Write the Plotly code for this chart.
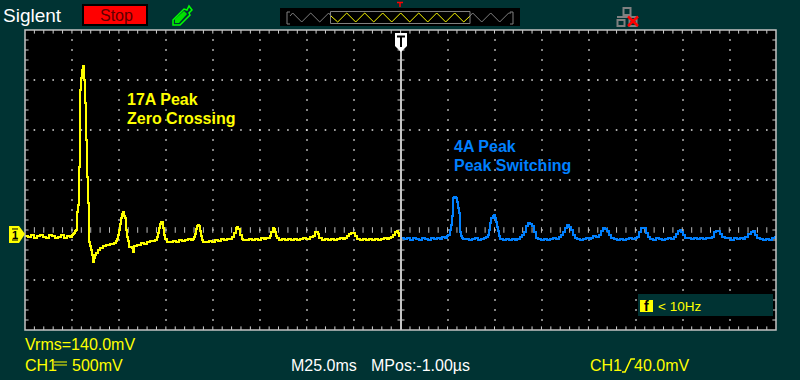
import numpy as np
import plotly.graph_objects as go

# Scope record as (sample index, millivolts): one sample per screen column, 500 mV/div
yellow_record = [
 (0,10),(3,0),(6,20),(9,-10),(12,10),(15,20),(18,0),(21,-10),(24,20),(27,10),(30,-10),(33,0),(36,20),(39,-10),(42,10),(45,0),
 (47,20),(48,30),(49,40),(50,60),(51,70),(52,250),(53,320),(54,700),(55,1470),(56,1590),(57,1670),(58,1710),(59,1570),(60,1340),(61,970),(62,600),(63,340),(64,-50),(65,-90),(66,-130),(67,-180),(68,-250),(69,-210),(70,-180),(71,-160),
 (73,-130),(75,-110),(78,-90),(81,-80),(85,-70),(89,-60),(91,-40),(92,-20),(93,20),(94,70),(95,130),(96,190),(97,230),(98,250),(99,210),(100,190),(101,70),(102,0),(103,-40),(104,-100),(106,-100),(107,-110),(108,-150),(109,-90),
 (112,-80),(116,-60),(119,-70),(122,-50),(125,-40),(128,-40),(130,-30),(132,0),(133,40),(134,90),(135,130),(136,150),(137,150),(138,90),(139,20),(140,-20),(142,-50),
 (145,-50),(148,-40),(151,-50),(154,-30),(157,-40),(160,-30),(163,-20),(166,-30),(168,-20),(169,0),(170,30),(171,80),(172,110),(173,120),(174,110),(175,60),(176,10),(177,-30),(178,-50),
 (181,-50),(184,-40),(187,-50),(190,-30),(193,-40),(196,-20),(199,-30),(202,-20),(205,-20),(207,0),(209,40),(211,90),(212,100),(213,80),(215,20),(217,-20),(218,-30),
 (221,-30),(224,-20),(227,-30),(230,-20),(233,-30),(236,-10),(239,-20),(241,-10),(243,-10),(245,10),(246,50),(248,90),(249,80),(250,50),(251,10),(252,-10),(254,-30),
 (257,-20),(260,-30),(263,-20),(266,-30),(269,-20),(272,-30),(275,-20),(278,-10),(281,-20),(283,-20),(285,0),(288,10),(290,50),(291,50),(293,30),(294,-10),(297,-30),
 (300,-20),(303,-30),(306,-20),(309,-30),(312,-20),(315,-10),(318,-20),(320,-10),(322,10),(324,30),(326,40),(328,40),(330,10),(332,-20),(335,-30),
 (338,-20),(341,-30),(344,-20),(347,-30),(350,-20),(353,-30),(356,-20),(359,-10),(362,-20),(364,-10),(366,0),(368,20),(370,50),(372,60),(373,40),(374,10),(376,-10),
]
blue_record = [
 (376,-10),(379,-20),(382,-10),(385,-30),(388,-10),(391,-20),(394,-30),(397,-10),(400,-20),(403,-30),(406,-10),(409,-20),(412,-10),(415,-20),(417,0),(420,-10),(422,10),(423,20),(425,70),(426,120),(427,210),(428,390),(429,400),(430,400),(431,390),(432,350),(433,290),(434,240),(435,50),(436,10),(437,-10),(438,-20),
 (441,-20),(444,-30),(447,-20),(450,-10),(453,-30),(456,-20),(459,-10),(461,0),(463,20),(464,70),(465,140),(466,190),(468,210),(469,220),(470,190),(471,150),(472,100),(473,60),(474,10),(475,-20),
 (478,-30),(481,-20),(484,-30),(487,-20),(490,-30),(492,-20),(495,0),(497,20),(499,50),(501,110),(503,140),(505,130),(507,110),(509,50),(511,-10),(513,-20),
 (516,-30),(519,-20),(522,-30),(525,-20),(528,-10),(531,-20),(534,0),(536,20),(538,50),(540,90),(542,120),(544,100),(546,70),(548,20),(550,-10),(552,-20),
 (555,-30),(558,-20),(561,-10),(564,-20),(566,-10),(568,10),(571,0),(574,20),(576,60),(578,90),(580,80),(582,60),(584,20),(586,-10),(589,-20),
 (592,-30),(595,-20),(598,-30),(601,-20),(604,-10),(607,-20),(610,-10),(612,0),(614,50),(616,90),(619,90),(621,40),(623,0),(625,-20),
 (628,-30),(631,-10),(634,-20),(637,-30),(640,-20),(643,-10),(646,-20),(649,0),(651,30),(653,60),(655,70),(656,50),(658,20),(660,-10),(663,-10),
 (666,-20),(669,-10),(672,-20),(675,-10),(678,-20),(681,-10),(684,-10),(687,0),(689,50),(691,60),(693,60),(695,30),(697,0),(700,-10),
 (703,-10),(706,-30),(709,-10),(712,-20),(715,-10),(718,-20),(720,0),(723,30),(726,50),(728,60),(730,20),(732,-10),(735,-20),(738,-30),(741,-20),(744,-30),(747,-10),(750,10),
]

note_zero = ["17A Peak", "Zero Crossing"]
note_peak = ["4A Peak", "Peak Switching"]
readouts_yellow = ["Vrms=140.0mV", "CH1", "500mV", "40.0mV", "CH1"]
readouts_white = ["M25.0ms", "MPos:-1.00µs"]

W, H = 800, 380
BG, GREY, YEL, BLU = "#003333", "#c4c4c4", "#ffff00", "#0080ff"
L, R, T, B = 25, 776, 30, 330
def X(p): return p / W
def Y(p): return 1 - p / H
def sx(p): return p - L            # screen px to sample
def mv(p): return (237 - p) * 10   # screen px to mV

fig = go.Figure()

def ticks(x, y, symbol, size, color="#d0d0d0", w=1):
    fig.add_trace(go.Scatter(x=x, y=y, mode="markers", hoverinfo="skip", showlegend=False,
        marker=dict(symbol=symbol, size=size, color=color, line=dict(color=color, width=w))))

cols = [sx(25 + 47 * i) for i in range(1, 16)]
rows = [mv(v) for v in (80, 130, 180, 280)]
minor_x = np.arange(0, 751, 9.39)
minor_y = [mv(v) for v in range(40, 330, 10)]
xs, ys = [], []
for c in cols:
    if c == sx(401): continue
    xs += [c] * len(minor_y); ys += minor_y
for r in rows:
    xs += list(minor_x[1:]); ys += [r] * (len(minor_x) - 1)
fig.add_trace(go.Scatter(x=xs, y=ys, mode="markers", hoverinfo="skip", showlegend=False,
    marker=dict(symbol="square", size=1.6, color="#d8d8d8", line=dict(width=0))))
ticks(list(minor_x[1:]), [mv(230)] * (len(minor_x) - 1), "line-ns", 4, "#b8b8b8")
ticks(list(minor_x[1:]), [mv(31.5)] * (len(minor_x) - 1), "line-ns", 3)
ticks(list(minor_x[1:]), [mv(328.5)] * (len(minor_x) - 1), "line-ns", 3)
ticks([1.5] * len(minor_y), minor_y, "line-ew", 3)
ticks([749.5] * len(minor_y), minor_y, "line-ew", 3)
ticks([sx(401)] * len(minor_y), minor_y, "line-ew", 5)

ysx, ymv = zip(*yellow_record)
bsx, bmv = zip(*blue_record)
fig.add_trace(go.Scatter(x=ysx, y=ymv, mode="lines", showlegend=False,
    line=dict(color=YEL, width=2, shape="hv"), hoverinfo="skip"))
fig.add_trace(go.Scatter(x=bsx, y=bmv, mode="lines", showlegend=False,
    line=dict(color=BLU, width=2, shape="hv"), hoverinfo="skip"))

shapes = []
def rect(x0, y0, x1, y1, fill=None, line=None, w=1, layer="above"):
    shapes.append(dict(type="rect", xref="paper", yref="paper", x0=X(x0), x1=X(x1), y0=Y(y0), y1=Y(y1),
        fillcolor=fill or "rgba(0,0,0,0)", line=dict(color=line or "rgba(0,0,0,0)", width=w if line else 0), layer=layer))
def path(pts, fill=None, line=None, w=1, close=True):
    d = "M" + "L".join(f"{X(a):.5f},{Y(b):.5f}" for a, b in pts) + ("Z" if close else "")
    shapes.append(dict(type="path", xref="paper", yref="paper", path=d,
        fillcolor=fill or "rgba(0,0,0,0)", line=dict(color=line or "rgba(0,0,0,0)", width=w if line else 0)))

# frame and trigger line
rect(L, T, R, B, None, GREY, 1.5)
path([(401, 50), (401, 330)], None, GREY, 2, False)
# trigger flag
path([(395, 33), (407, 33), (407, 46), (401, 52), (395, 46)], "#ffffff")
path([(397, 36.5), (405, 36.5)], None, "#000000", 2, False)
path([(401, 36), (401, 47)], None, "#000000", 2, False)
# channel flag
path([(9, 226), (19, 226), (25, 234), (19, 243), (9, 243)], YEL)
path([(12, 229), (18, 229)], None, "#000000", 1, False)
path([(12, 240), (18, 240)], None, "#000000", 1, False)
# stop button
rect(82, 4, 148, 26, "#000000")
rect(84, 6, 146, 24, "#ff0000")
# run/stop icon
path([(173, 20), (184, 9), (187, 10), (189, 6), (192, 10), (189, 13), (190, 15), (180, 25), (173, 25)], None, "#00ff00", 1.5)
path([(175, 19), (184, 11), (187, 14), (179, 23), (175, 23)], "#00e000")
# timeline
rect(280, 8, 520, 26, "#000000")
edges = [292.7 + 18 * k for k in range(13)]
zig = []
for e in edges:
    zig += [(e, 13), (e + 9, 22)]
zig = [(290, 16)] + zig[:-1] + [(511, 13)]
grey_a = [p for p in zig if p[0] <= 328.7] + [(331, 16)]
yellow_z = [(331, 16)] + [p for p in zig if 331 < p[0] < 470] + [(470, 16)]
grey_b = [(470, 16)] + [p for p in zig if p[0] >= 470]
path(grey_a, None, "#808080", 1, False)
path(grey_b, None, "#808080", 1, False)
path(yellow_z, None, YEL, 1, False)
rect(330.5, 11.5, 470, 23.5, None, "#808080", 1)
path([(290, 12), (287, 12), (287, 24), (290, 24)], None, "#808080", 1, False)
path([(510, 12), (513, 12), (513, 24), (510, 24)], None, "#808080", 1, False)
path([(397, 2.5), (403, 2.5)], None, "#ff0000", 1.5, False)
path([(400, 2.5), (400, 7)], None, "#ff0000", 1.5, False)
# network icon
rect(623.5, 8, 630.5, 15, None, "#808080", 2)
rect(617.5, 20, 624.5, 26, None, "#808080", 2)
rect(629.5, 20, 636.5, 26, None, "#808080", 2)
path([(617, 17), (638, 17)], None, "#808080", 2, False)
path([(628, 16.5), (638, 26)], None, "#ff0000", 2.5, False)
path([(638, 16.5), (628, 26)], None, "#ff0000", 2.5, False)
# frequency box
shapes.append(dict(type="rect", xref="paper", yref="paper", x0=X(638), x1=X(773), y0=Y(294), y1=Y(316),
    fillcolor=BG, line=dict(width=0), layer="above"))
rect(640, 300, 653, 312, YEL)
# DC coupling glyph and trigger slope
path([(54, 362), (67, 362)], None, YEL, 1, False)
path([(54, 365), (67, 365)], None, YEL, 1, False)
path([(622, 372), (625, 372), (631, 359), (635, 359)], None, YEL, 1.5, False)

ann = []
def text(s, x, y, size, color, bold=False, family="Liberation Sans"):
    ann.append(dict(text=f"<b>{s}</b>" if bold else s, x=X(x), y=Y(y), xref="paper", yref="paper", showarrow=False,
        xanchor="left", yanchor="middle", borderpad=0, borderwidth=0,
        font=dict(family=family, size=size, color=color)))
text("Siglent", 3, 15, 19, "#ffffff")
text("Stop", 100, 15, 16, "#600000")
text(note_zero[0], 127, 100, 16, YEL, True)
text(note_zero[1], 127, 118, 16, YEL, True)
text(note_peak[0], 454, 146, 16, BLU, True)
text(note_peak[1], 454, 165, 16, BLU, True)
text(readouts_yellow[0], 25, 344, 16, YEL)
text(readouts_yellow[1], 25, 365, 16, YEL)
text(readouts_yellow[2], 72, 365, 16, YEL)
text(readouts_white[0], 291, 365, 16, "#ffffff")
text(readouts_white[1], 371, 365, 16, "#ffffff")
text(readouts_yellow[4], 590, 365, 16, YEL)
text(readouts_yellow[3], 634, 365, 16, YEL)
text("f", 644, 306, 14, "#000000", True)
text("&lt; 10Hz", 658, 306, 13.5, YEL)
text("1", 12, 234.5, 11, "#000000", True)

fig.update_layout(
    width=W, height=H, autosize=False, margin=dict(l=0, r=0, t=0, b=0),
    paper_bgcolor=BG, plot_bgcolor="#000000", showlegend=False, shapes=shapes, annotations=ann,
    xaxis=dict(domain=[X(L), X(R)], range=[0, R - L], visible=False, fixedrange=True),
    yaxis=dict(domain=[Y(B), Y(T)], range=[mv(B), mv(T)], visible=False, fixedrange=True),
)
fig.write_html("out.html", config={"displayModeBar": False}, post_script="document.body.style.margin='0';document.body.style.overflow='hidden';")
